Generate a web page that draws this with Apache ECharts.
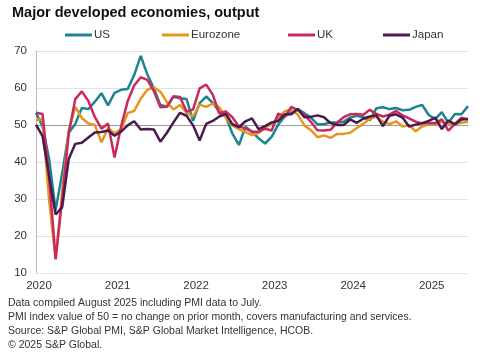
<!doctype html>
<html>
<head>
    <meta charset="utf-8">
    <title>Major developed economies, output</title>
    <script src="https://cdn.jsdelivr.net/npm/echarts@6/dist/echarts.min.js"></script>
</head>
<style>
    html, body { margin: 0; padding: 0; background: #fff; }
    #main { width: 487px; height: 353px; }
</style>
<body>
<div id="main"></div>
<script>
  // monthly, Jan 2020 .. Jul 2025
  var years = ['2020', '2021', '2022', '2023', '2024', '2025'];
  var lastYearMonths = 7;

  var us = [
    53.3, 49.6, 40.9, 27.0, 37.0, 47.9, 50.3, 54.6, 54.3, 56.3, 58.6, 55.3,
    58.7, 59.5, 59.7, 63.5, 68.7, 63.7, 59.9, 55.4, 55.0, 57.6, 57.2, 57.0,
    51.1, 55.9, 57.7, 56.0, 53.6, 52.3, 47.7, 44.6, 49.5, 48.2, 46.4, 45.0,
    46.8, 50.1, 52.3, 53.4, 54.3, 53.2, 52.0, 50.2, 50.2, 50.7, 50.7, 50.9,
    52.0, 52.5, 52.1, 51.3, 54.5, 54.8, 54.3, 54.6, 54.0, 54.1, 54.9, 55.4,
    52.7, 51.6, 53.5, 50.6, 53.0, 52.9, 55.1
  ];
  var eurozone = [
    51.3, 51.6, 29.7, 13.6, 31.9, 48.5, 54.9, 51.9, 50.4, 50.0, 45.3, 49.1,
    47.8, 48.8, 53.2, 53.8, 57.1, 59.5, 60.2, 59.0, 56.2, 54.2, 55.4, 53.3,
    52.3, 55.5, 54.9, 55.8, 54.8, 52.0, 49.9, 48.9, 48.1, 47.3, 47.8, 49.3,
    50.3, 52.0, 53.7, 54.1, 52.8, 49.9, 48.6, 46.7, 47.2, 46.5, 47.6, 47.6,
    47.9, 49.2, 50.3, 51.7, 52.2, 50.9, 50.2, 51.0, 49.6, 50.0, 48.3, 49.6,
    50.2, 50.2, 50.9, 50.4, 50.2, 50.6, 50.9
  ];
  var uk = [
    53.3, 53.0, 36.0, 13.8, 30.0, 47.7, 57.0, 59.1, 56.5, 52.1, 49.0, 50.4,
    41.2, 49.6, 56.4, 60.7, 62.9, 62.2, 59.2, 54.8, 54.9, 57.8, 57.6, 53.6,
    54.2, 59.9, 60.9, 58.2, 53.1, 53.7, 52.1, 49.6, 49.1, 48.2, 48.2, 49.0,
    48.5, 53.1, 52.2, 54.9, 54.0, 52.8, 50.8, 48.6, 48.5, 48.7, 50.7, 52.1,
    52.9, 53.0, 52.8, 54.1, 53.0, 52.3, 52.8, 53.8, 52.6, 51.8, 50.9, 50.4,
    50.6, 50.5, 51.5, 48.5, 50.3, 52.0, 51.5
  ];
  var japan = [
    50.1, 47.0, 36.2, 25.8, 27.8, 40.8, 44.9, 45.2, 46.6, 48.0, 48.1, 48.5,
    47.1, 48.2, 49.9, 51.0, 48.8, 48.9, 48.8, 45.5, 47.9, 50.7, 53.3, 52.5,
    49.9, 45.8, 50.3, 51.1, 52.3, 53.0, 50.2, 49.4, 51.0, 51.8, 48.9, 49.7,
    50.7, 51.1, 52.9, 52.9, 54.3, 52.1, 52.2, 52.6, 52.1, 50.5, 50.0, 50.0,
    51.5, 50.6, 51.7, 52.3, 52.6, 49.7, 52.5, 52.9, 52.0, 49.6, 50.1, 50.5,
    51.1, 52.0, 48.9, 51.2, 50.2, 51.5, 51.6
  ];

  var names = ['US', 'Eurozone', 'UK', 'Japan'];
  var colors = ['#1b8591', '#e6961f', '#c82a5c', '#4b1a4e'];
  var notes = [
    'Data compiled August 2025 including PMI data to July.',
    'PMI index value of 50 = no change on prior month, covers manufacturing and services.',
    'Source: S&P Global PMI, S&P Global Market Intelligence, HCOB.',
    '\u00a9 2025 S&P Global.'
  ];

  var months = [];
  years.forEach(function (y, i) {
    var n = i === years.length - 1 ? lastYearMonths : 12;
    for (var m = 1; m <= n; m++) {
      months.push(y + '-' + (m < 10 ? '0' + m : m));
    }
  });

  var font = '"Liberation Sans", Arial, sans-serif';
  var legendLeft = [60, 157, 283, 378];

  var chart = echarts.init(document.getElementById('main'));
  var seriesData = [us, eurozone, uk, japan];

  var option = {
    animation: false,
    textStyle: { fontFamily: font },
    title: {
      text: 'Major developed economies, output',
      left: 7,
      top: 0,
      textStyle: { fontSize: 14.5, fontWeight: 'bold', color: '#111', fontFamily: font }
    },
    legend: names.map(function (n, i) {
      return {
        data: [n],
        left: legendLeft[i],
        top: 24,
        itemWidth: 27,
        itemHeight: 3,
        itemGap: 0,
        icon: 'rect',
        textStyle: { fontSize: 11.5, color: '#333', padding: [0, 0, 0, -3] },
        selectedMode: false
      };
    }),
    grid: { left: 36, right: 19, top: 51, bottom: 80 },
    xAxis: {
      type: 'category',
      data: months,
      boundaryGap: false,
      axisLine: { show: false },
      axisTick: { show: false },
      axisLabel: {
        interval: function (idx) { return idx % 12 === 0; },
        formatter: function (v) { return v.slice(0, 4); },
        fontSize: 11.5,
        color: '#333',
        margin: 7,
        padding: [0, 0, 0, 6]
      },
      splitLine: { show: false }
    },
    yAxis: {
      type: 'value',
      min: 10,
      max: 70,
      interval: 10,
      axisLine: { show: true, lineStyle: { color: '#bbb' } },
      axisTick: { show: false },
      axisLabel: { fontSize: 11.5, color: '#333', margin: 9 },
      splitLine: {
        lineStyle: {
          color: ['#e2e2e2', '#e2e2e2', '#e2e2e2', '#e2e2e2', '#9a9a9a', '#e2e2e2', '#e2e2e2'],
          width: 1
        }
      }
    },
    graphic: notes.map(function (t, i) {
      return {
        type: 'text',
        left: 8,
        top: 297 + i * 14,
        style: { text: t, fontSize: 10.5, fill: '#333', fontFamily: font }
      };
    }).map(function (g, i) { g.top = 298 + i * 14; return g; }),
    series: names.map(function (n, i) {
      return {
        name: n,
        type: 'line',
        data: seriesData[i],
        symbol: 'none',
        color: colors[i],
        lineStyle: { width: 2.5 },
        z: 2 + i
      };
    })
  };

  chart.setOption(option);
</script>
</body>
</html>
